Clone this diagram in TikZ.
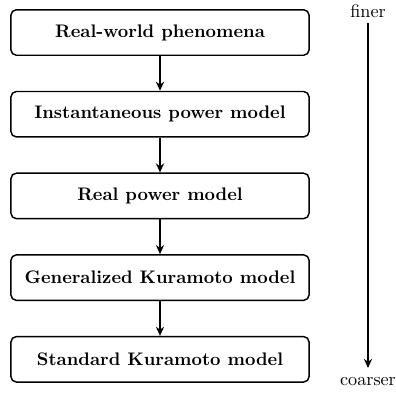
\documentclass[tikz,border=0pt]{standalone}
\usetikzlibrary{arrows.meta}
\begin{document}
\begin{tikzpicture}[x=0.55pt,y=-0.55pt,
  stagebox/.style={draw,thick,rounded corners=3pt,minimum width=164pt,minimum height=25pt,inner sep=0pt,font=\bfseries},
  flow/.style={thick,-{Stealth[length=5pt,width=4.5pt]}}]
\useasboundingbox (0,0) rectangle (396,392);
\node[stagebox] (a) at (160,32.5) {Real-world phenomena};
\node[stagebox] (b) at (160,114.2) {Instantaneous power model};
\node[stagebox] (c) at (160,195.9) {Real power model};
\node[stagebox] (d) at (160,277.6) {Generalized Kuramoto model};
\node[stagebox] (e) at (160,359.3) {Standard Kuramoto model};
\draw[flow] (a) -- (b);
\draw[flow] (b) -- (c);
\draw[flow] (c) -- (d);
\draw[flow] (d) -- (e);
\node[anchor=base,inner sep=0pt] (fin) at (368,17) {finer};
\node[anchor=base,inner sep=0pt] (coa) at (368,385) {coarser};
\coordinate (top) at (368,23);
\coordinate (bot) at (368,368);
\draw[flow] (top) -- (bot);
\end{tikzpicture}
\end{document}
